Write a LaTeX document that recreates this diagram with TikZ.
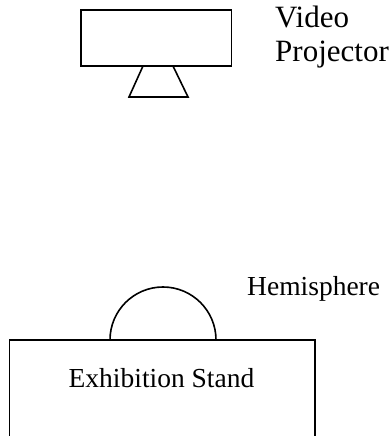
\documentclass[tikz,border=0pt]{standalone}
\usepackage{fontspec}
\setmainfont{Liberation Serif}
\begin{document}
\begin{tikzpicture}[x=1pt,y=1pt,
  outline/.style={draw=black,line width=1.6pt,line join=miter},
  caption/.style={inner sep=0pt,font=\fontsize{27.5}{32}\selectfont},
  bigcaption/.style={inner sep=0pt,font=\fontsize{31}{34}\selectfont}]
\useasboundingbox (0,0) rectangle (391,436);

% projector body and its stand
\draw[outline] (81,370) rectangle (231.5,426);
\draw[outline] (143,370) -- (173,370) -- (188,339) -- (129,339) -- cycle;
\node[bigcaption,anchor=base west] (video) at (275,408) {Video};
\node[bigcaption,anchor=base west] (projector) at (275,374) {Projector};

% exhibition stand, running off the lower edge
\draw[outline] (9.5,0) -- (9.5,96) -- (315,96) -- (315,0);
\node[caption,anchor=base] (stand) at (161.5,48) {Exhibition Stand};

% hemisphere on top of the stand
\draw[outline] (110,96) arc[start angle=180,end angle=0,radius=53];
\node[caption,anchor=base west] (hemi) at (247,140) {Hemisphere};
\end{tikzpicture}
\end{document}
